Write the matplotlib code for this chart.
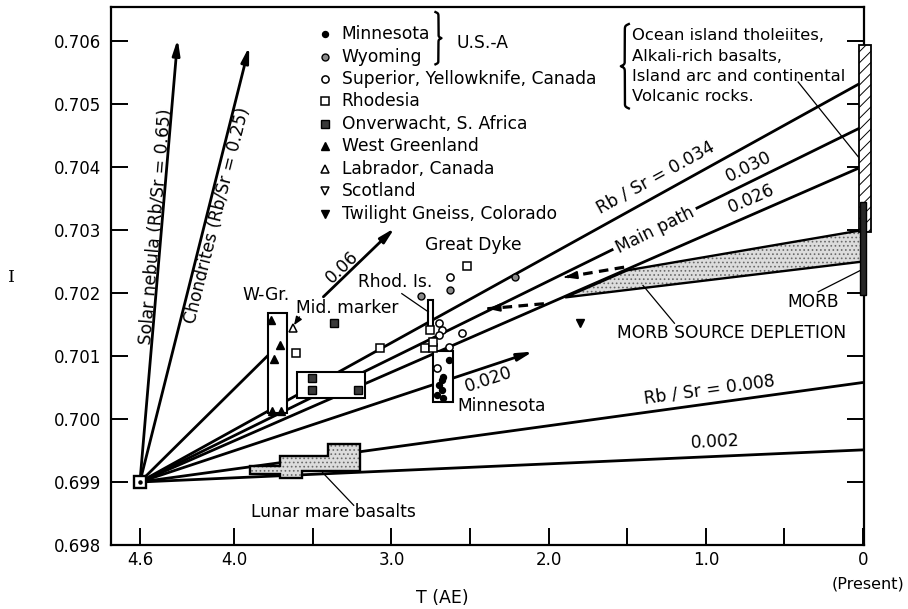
import numpy as np
import matplotlib
matplotlib.use('Agg')
import matplotlib.pyplot as plt
from matplotlib.patches import Polygon, Rectangle

plt.rcParams['font.family'] = ['DejaVu Sans']
plt.rcParams['hatch.linewidth'] = 0.7

# ---------------- data ----------------
ORIGIN_T = 4.6
ORIGIN_I = 0.699

# growth lines from the 4.6 AE origin
growth_labels = ['Rb / Sr = 0.034', '0.030', '0.026', 'Rb / Sr = 0.008', '0.002']
growth_end_T = [0.025, 0.02, 0.03, 0.0, 0.0]
growth_end_I = [0.70532, 0.70462, 0.70398, 0.70058, 0.69951]
growth_label_T = [1.32, 0.73, 0.71, 0.975, 0.94]
growth_label_I = [0.70384, 0.70400, 0.70350, 0.70046, 0.69963]

# arrows from the origin
arrow_labels = ['Solar nebula (Rb/Sr = 0.65)', 'Chondrites (Rb/Sr = 0.25)', '0.020']
arrow_end_T = [4.36, 3.905, 2.10]
arrow_end_I = [0.70603, 0.70591, 0.70107]
arrow_label_T = [4.50, 4.11, 2.38]
arrow_label_I = [0.70305, 0.70323, 0.70063]

# line from origin to W-Gr and second-stage 0.06 arrow
wgr_line_T = [4.6, 3.785]
wgr_line_I = [0.699, 0.70101]
arrow06_T = [3.433, 2.98]
arrow06_I = [0.70194, 0.70303]
arrow06_label = '0.06'
arrow06_label_T, arrow06_label_I = 3.312, 0.70241

# main path label on 0.030 line
main_path_T, main_path_I = 1.323, 0.70300

# dashed main path arrows (start, tip)
dash_T0 = [1.52, 2.03]
dash_I0 = [0.70241, 0.70183]
dash_T1 = [1.90, 2.39]
dash_I1 = [0.70225, 0.70175]

# MORB source depletion wedge
wedge_T = [1.895, 1.50, 0.0, 0.0]
wedge_I = [0.70193, 0.70236, 0.70300, 0.70250]

# lunar mare basalts stepped field
lunar_T = [3.90, 3.707, 3.707, 3.406, 3.406, 3.20, 3.20, 3.567, 3.567, 3.707, 3.707, 3.90]
lunar_I = [0.69926, 0.69926, 0.69942, 0.69942, 0.69960, 0.69960, 0.69918, 0.69918,
           0.69906, 0.69906, 0.69912, 0.69912]

# boxes (W-Gr., Onverwacht, Minnesota, Rhod. Is.)
box_T0 = [3.785, 3.602, 2.737, 2.765]
box_T1 = [3.664, 3.168, 2.610, 2.733]
box_I0 = [0.70009, 0.70034, 0.70027, 0.70139]
box_I1 = [0.70168, 0.70075, 0.70108, 0.70189]

# present-day ranges at T = 0
hatch_T = [0.027, -0.050]
hatch_I = [0.70297, 0.70594]
morb_T = [0.02, -0.02]
morb_I = [0.70197, 0.70344]

# data points by locality
minnesota_T = [2.637, 2.67, 2.68, 2.70, 2.68, 2.71, 2.67]
minnesota_I = [0.70094, 0.70067, 0.70062, 0.70054, 0.70046, 0.70038, 0.70033]
wyoming_T = [2.627, 2.814, 2.214]
wyoming_I = [0.70204, 0.70195, 0.70225]
superior_T = [2.627, 2.70, 2.68, 2.70, 2.637, 2.553, 2.712]
superior_I = [0.70225, 0.70153, 0.70142, 0.70133, 0.70114, 0.70136, 0.70081]
rhodesia_T = [3.61, 3.073, 2.521, 2.755, 2.786, 2.733, 2.733]
rhodesia_I = [0.70104, 0.70112, 0.70243, 0.70141, 0.70112, 0.70112, 0.70123]
onverwacht_T = [3.363, 3.507, 3.507, 3.21]
onverwacht_I = [0.70153, 0.70065, 0.70046, 0.70046]
wgreenland_T = [3.765, 3.71, 3.744, 3.76, 3.70]
wgreenland_I = [0.70157, 0.70117, 0.70096, 0.70013, 0.70012]
labrador_T = [3.628]
labrador_I = [0.70144]
scotland_T = []
scotland_I = []
twilight_T = [1.80]
twilight_I = [0.70152]

legend_names = ['Minnesota', 'Wyoming', 'Superior, Yellowknife, Canada', 'Rhodesia',
                'Onverwacht, S. Africa', 'West Greenland', 'Labrador, Canada',
                'Scotland', 'Twilight Gneiss, Colorado']

ocean_lines = ['Ocean island tholeiites,', 'Alkali-rich basalts,',
               'Island arc and continental', 'Volcanic rocks.']

# free labels
text_labels = ['W-Gr.', 'Mid. marker', 'Great Dyke', 'Rhod. Is.', 'Minnesota',
               'Lunar mare basalts', 'MORB SOURCE DEPLETION', 'MORB', 'U.S.-A']
text_T = [3.80, 3.284, 2.479, 2.977, 2.30, 3.372, 0.835, 0.318, 2.42]
text_I = [0.70197, 0.70176, 0.70276, 0.70218, 0.70020, 0.69853, 0.70137, 0.70186, 0.70597]

# thin leader lines (start, end)
leader_T0 = [0.413, 0.285, 1.40, 3.438, 2.934]
leader_I0 = [0.70535, 0.70202, 0.70212, 0.69915, 0.70199]
leader_T1 = [0.03, 0.008, 1.20, 3.24, 2.765]
leader_I1 = [0.70416, 0.70237, 0.70152, 0.69863, 0.70170]
mid_arrow_T = [3.585, 3.62]
mid_arrow_I = [0.70162, 0.70149]

x_ticks = [4.6, 4.0, 3.5, 3.0, 2.5, 2.0, 1.5, 1.0, 0.5, 0.0]
x_ticklabels = ['4.6', '4.0', '', '3.0', '', '2.0', '', '1.0', '', '0']
y_ticks = [0.698, 0.699, 0.700, 0.701, 0.702, 0.703, 0.704, 0.705, 0.706]

# ---------------- figure ----------------
fig = plt.figure(figsize=(9.08, 6.09), dpi=100)
ax = fig.add_axes([111 / 908, 1 - 545 / 609, (864 - 111) / 908, (545 - 7) / 609])
ax.set_xlim(4.784, -0.006)
ax.set_ylim(0.698, 0.70654)

FS = 12.3
LW = 2.0
K = 'black'

for sp in ax.spines.values():
    sp.set_linewidth(1.6)
ax.set_xticks(x_ticks)
ax.set_xticklabels(x_ticklabels, fontsize=12)
ax.set_yticks(y_ticks)
ax.set_yticklabels(['%.3f' % v for v in y_ticks], fontsize=12)
ax.tick_params(axis='x', direction='in', length=12, width=1.4, pad=4.5)
ax.tick_params(axis='y', direction='in', length=12, width=1.4, pad=7, right=True)


def screen_angle(t0, i0, t1, i1):
    p0 = ax.transData.transform((t0, i0))
    p1 = ax.transData.transform((t1, i1))
    return np.degrees(np.arctan2(p1[1] - p0[1], p1[0] - p0[0]))


# growth lines
for lab, te, ie, tl, il in zip(growth_labels, growth_end_T, growth_end_I,
                               growth_label_T, growth_label_I):
    ax.plot([ORIGIN_T, te], [ORIGIN_I, ie], color=K, lw=LW, zorder=2,
            solid_capstyle='butt')
    ang = screen_angle(ORIGIN_T, ORIGIN_I, te, ie)
    ax.text(tl, il, lab, rotation=ang, rotation_mode='anchor', ha='center',
            va='center', fontsize=FS, zorder=6)

# arrows from origin
for lab, te, ie, tl, il in zip(arrow_labels, arrow_end_T, arrow_end_I,
                               arrow_label_T, arrow_label_I):
    ax.annotate('', xy=(te, ie), xytext=(ORIGIN_T, ORIGIN_I),
                arrowprops=dict(arrowstyle='-|>,head_length=0.9,head_width=0.22',
                                lw=LW, color=K, shrinkA=0, shrinkB=0), zorder=2)
    ang = screen_angle(ORIGIN_T, ORIGIN_I, te, ie)
    ax.text(tl, il, lab, rotation=ang, rotation_mode='anchor', ha='center',
            va='center', fontsize=FS, zorder=6)

# W-Gr line and 0.06 arrow
ax.plot(wgr_line_T, wgr_line_I, color=K, lw=LW, zorder=2)
ax.annotate('', xy=(arrow06_T[1], arrow06_I[1]), xytext=(arrow06_T[0], arrow06_I[0]),
            arrowprops=dict(arrowstyle='-|>,head_length=0.9,head_width=0.22',
                            lw=LW, color=K, shrinkA=0, shrinkB=0), zorder=2)
ang06 = screen_angle(arrow06_T[0], arrow06_I[0], arrow06_T[1], arrow06_I[1])
ax.text(arrow06_label_T, arrow06_label_I, arrow06_label, rotation=ang06,
        rotation_mode='anchor', ha='center', va='center', fontsize=FS, zorder=6)

# Main path label sitting on the 0.030 line
ang_mp = screen_angle(ORIGIN_T, ORIGIN_I, growth_end_T[1], growth_end_I[1])
ax.text(main_path_T, main_path_I, 'Main path', rotation=ang_mp, rotation_mode='anchor',
        ha='center', va='center', fontsize=FS, zorder=6,
        bbox=dict(boxstyle='square,pad=0.2', fc='white', ec='none'))

# dashed arrows
for t0, i0, t1, i1 in zip(dash_T0, dash_I0, dash_T1, dash_I1):
    ax.plot([t0, t1], [i0, i1], color=K, lw=2.3, ls=(0, (3, 2)), zorder=4)
    ax.annotate('', xy=(t1, i1), xytext=(t1 + 0.02 * (t0 - t1), i1 + 0.02 * (i0 - i1)),
                arrowprops=dict(arrowstyle='-|>,head_length=0.7,head_width=0.22',
                                lw=1.5, color=K, shrinkA=0, shrinkB=0), zorder=4)


# stippled fields
def stipple(ts, is_):
    pts = np.column_stack([ts, is_])
    ax.add_patch(Polygon(pts, closed=True, fc='#dcdcdc', ec='#6a6a6a', lw=0,
                         hatch='....', zorder=3))
    ax.add_patch(Polygon(pts, closed=True, fc='none', ec=K, lw=1.7, zorder=3.5))


stipple(wedge_T, wedge_I)
stipple(lunar_T, lunar_I)

# boxes
for t0, t1, i0, i1 in zip(box_T0, box_T1, box_I0, box_I1):
    ax.add_patch(Rectangle((t0, i0), t1 - t0, i1 - i0, fc='white', ec=K, lw=1.5,
                           zorder=3))

# present-day bars
ax.add_patch(Rectangle((hatch_T[0], hatch_I[0]), hatch_T[1] - hatch_T[0],
                       hatch_I[1] - hatch_I[0], fc='white', ec=K, lw=1.3,
                       hatch='///', zorder=4, clip_on=False))
ax.add_patch(Rectangle((morb_T[0], morb_I[0]), morb_T[1] - morb_T[0],
                       morb_I[1] - morb_I[0], fc='#262626', ec=K, lw=1.0,
                       zorder=4.5, clip_on=False))

# leader lines
for t0, i0, t1, i1 in zip(leader_T0, leader_I0, leader_T1, leader_I1):
    ax.plot([t0, t1], [i0, i1], color=K, lw=0.9, zorder=4)
ax.annotate('', xy=(mid_arrow_T[1], mid_arrow_I[1]), xytext=(mid_arrow_T[0], mid_arrow_I[0]),
            arrowprops=dict(arrowstyle='-|>,head_length=0.5,head_width=0.2', lw=1.0,
                            color=K, shrinkA=0, shrinkB=0), zorder=5)

# origin marker
ax.plot([ORIGIN_T], [ORIGIN_I], marker='s', ms=8, mfc='white', mec=K, mew=1.7, zorder=6)
ax.plot([ORIGIN_T], [ORIGIN_I], marker='o', ms=2.2, color=K, zorder=7)

# marker styles per locality
styles = [
    dict(marker='o', ms=4.3, mfc=K, mec=K),
    dict(marker='o', ms=5.0, mfc='#8a8a8a', mec=K, mew=1.0),
    dict(marker='o', ms=5.2, mfc='white', mec=K, mew=1.1),
    dict(marker='s', ms=5.5, mfc='white', mec=K, mew=1.1),
    dict(marker='s', ms=5.5, mfc='#3a3a3a', mec=K, mew=1.0),
    dict(marker='^', ms=5.5, mfc=K, mec=K),
    dict(marker='^', ms=5.8, mfc='white', mec=K, mew=1.1),
    dict(marker='v', ms=5.8, mfc='white', mec=K, mew=1.1),
    dict(marker='v', ms=5.8, mfc=K, mec=K),
]
point_sets = [(minnesota_T, minnesota_I), (wyoming_T, wyoming_I), (superior_T, superior_I),
              (rhodesia_T, rhodesia_I), (onverwacht_T, onverwacht_I),
              (wgreenland_T, wgreenland_I), (labrador_T, labrador_I),
              (scotland_T, scotland_I), (twilight_T, twilight_I)]
for (ts, is_), st in zip(point_sets, styles):
    if len(ts):
        ax.plot(ts, is_, ls='none', zorder=6, **st)

# legend (drawn as text)
leg_T_marker, leg_T_text = 3.42, 3.316
leg_I0, leg_step = 0.70611, 0.000356
for k, (name, st) in enumerate(zip(legend_names, styles)):
    yy = leg_I0 - k * leg_step
    ax.plot([leg_T_marker], [yy], ls='none', zorder=6, **st)
    ax.text(leg_T_text, yy, name, ha='left', va='center', fontsize=FS, zorder=6)

# ocean island text block
for k, line in enumerate(ocean_lines):
    ax.text(1.472, 0.70608 - k * 0.000318, line, ha='left', va='center',
            fontsize=11.8, zorder=6)

# free labels
for lab, t, i in zip(text_labels, text_T, text_I):
    ax.text(t, i, lab, ha='center', va='center', fontsize=FS, zorder=6)


# curly braces
def draw_brace(t, i_top, i_bot, width_px, facing):
    x0, y_top = ax.transData.transform((t, i_top))
    _, y_bot = ax.transData.transform((t, i_bot))
    L = y_top - y_bot
    s = np.linspace(0, L / 2, 200)
    beta = 9.0 / width_px
    half = 1 / (1 + np.exp(-beta * s)) + 1 / (1 + np.exp(-beta * (s - L / 2)))
    off = width_px * (half - 0.5)
    xs = np.concatenate([x0 + facing * off, (x0 + facing * off)[::-1]])
    ys = np.concatenate([y_top - s, (y_bot + s)[::-1]])
    pts = ax.transData.inverted().transform(np.column_stack([xs, ys]))
    ax.plot(pts[:, 0], pts[:, 1], color=K, lw=1.7, zorder=6, clip_on=False)


draw_brace(2.72, 0.70646, 0.70563, 6, +1)
draw_brace(1.49, 0.70627, 0.70493, 8, -1)

# axis titles
fig.text(442 / 908, 1 - 598 / 609, 'T (AE)', ha='center', va='center', fontsize=12.5)
fig.text(868 / 908, 1 - 584 / 609, '(Present)', ha='center', va='center', fontsize=11.5)
fig.text(11 / 908, 1 - 277 / 609, 'I', ha='center', va='center', fontsize=12.5,
         family='DejaVu Serif')

fig.savefig('out.png', dpi=100)
